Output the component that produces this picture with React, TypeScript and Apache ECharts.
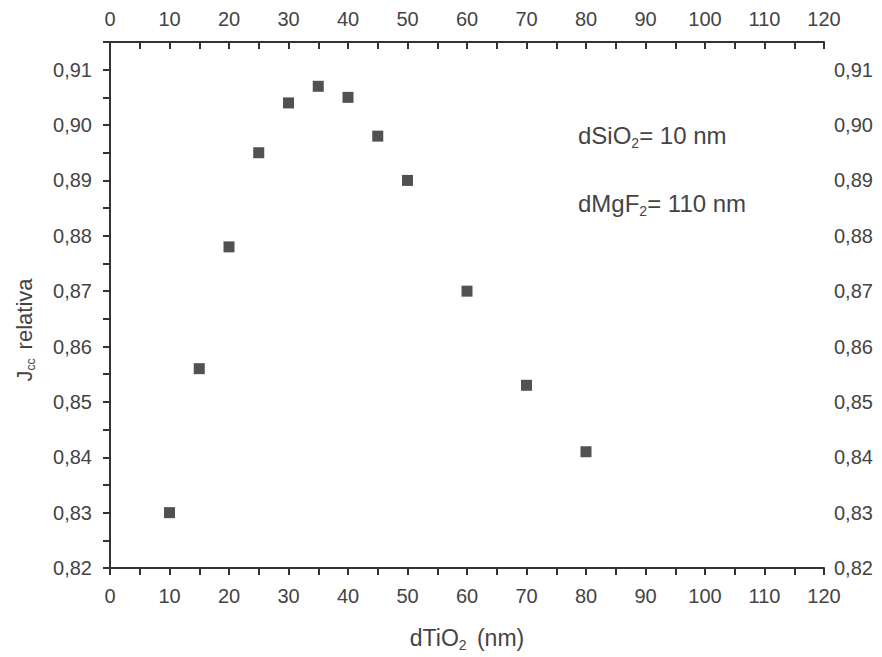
import React, { useEffect, useRef } from "react";
import * as echarts from "echarts";

const thickness = [10, 15, 20, 25, 30, 35, 40, 45, 50, 60, 70, 80];
const jccRel = [0.83, 0.856, 0.878, 0.895, 0.904, 0.907, 0.905, 0.898, 0.89, 0.87, 0.853, 0.841];
const xRange = { min: 0, max: 120, tickStep: 5, labelStep: 10 };
const yRange = { min: 0.82, max: 0.915, tickStep: 0.005, labelStep: 0.01 };
const annotations = ["dSiO{sub|2}{m|= 10 nm}", "dMgF{sub|2}{m|= 110 nm}"];

const FONT = "'Liberation Sans', Arial, sans-serif";
const AXIS_COLOR = "#333";
const TEXT_COLOR = "#444";

export default function App() {
  const ref = useRef<HTMLDivElement>(null);
  useEffect(() => {
    document.body.style.margin = "0";
    const chart = echarts.init(ref.current!, undefined, { renderer: "svg" });
    const ls = () => ({ color: AXIS_COLOR, width: 2 });
    const isStep = (v: number, step: number) => Math.abs(v / step - Math.round(v / step)) < 1e-6;
    const fmtX = (v: number) => (isStep(v, xRange.labelStep) ? String(Math.round(v)) : "");
    const fmtY = (v: number) => (isStep(v, yRange.labelStep) ? v.toFixed(2).replace(".", ",") : "");
    const xAxisDef = (position: string, inside: boolean, margin: number): any => ({
      type: "value",
      position,
      min: xRange.min,
      max: xRange.max,
      interval: xRange.tickStep,
      axisLine: { show: true, lineStyle: ls() },
      axisTick: { show: true, inside, length: 7, lineStyle: ls() },
      splitLine: { show: false },
      axisLabel: { margin, fontSize: 20, color: TEXT_COLOR, fontFamily: FONT, formatter: fmtX },
    });
    const yAxisDef = (position: string, inside: boolean, margin: number): any => ({
      type: "value",
      position,
      min: yRange.min,
      max: yRange.max,
      interval: yRange.tickStep,
      axisLine: { show: true, lineStyle: ls() },
      axisTick: { show: true, inside, length: 7, lineStyle: ls() },
      splitLine: { show: false },
      axisLabel: { margin, fontSize: 20, color: TEXT_COLOR, fontFamily: FONT, formatter: fmtY },
    });
    const xBottom = xAxisDef("bottom", false, 18);
    xBottom.name = "dTiO{sub|2} (nm)";
    xBottom.nameLocation = "middle";
    xBottom.nameGap = 56;
    xBottom.nameTextStyle = {
      fontSize: 23,
      color: TEXT_COLOR,
      fontFamily: FONT,
      rich: { sub: { fontSize: 14, color: TEXT_COLOR, fontFamily: FONT, padding: [14, 4, 0, 0] } },
    };
    const option: any = {
      animation: false,
      backgroundColor: "#fff",
      grid: { left: 110, right: 58, top: 42, bottom: 89, containLabel: false },
      xAxis: [xBottom, xAxisDef("top", true, 13)],
      yAxis: [yAxisDef("left", false, 18), yAxisDef("right", true, 10)],
      series: [
        {
          type: "scatter",
          xAxisIndex: 0,
          yAxisIndex: 0,
          symbol: "rect",
          symbolSize: 11,
          itemStyle: { color: "#262626" },
          data: thickness.map((t, i) => [t, jccRel[i]]),
        },
      ],
      graphic: [
        {
          type: "text",
          x: 24,
          y: 330,
          rotation: Math.PI / 2,
          style: {
            text: "J{sub|cc} relativa",
            fontSize: 22,
            fill: TEXT_COLOR,
            fontFamily: FONT,
            align: "center",
            verticalAlign: "middle",
            rich: { sub: { fontSize: 12, fill: TEXT_COLOR, fontFamily: FONT, padding: [14, 3, 0, 0] } },
          },
        },
        ...annotations.map((txt, i) => ({
          type: "text",
          x: 578,
          y: 135 + i * 68,
          style: {
            text: txt,
            fontSize: 24,
            fill: TEXT_COLOR,
            fontFamily: FONT,
            align: "left",
            verticalAlign: "middle",
            rich: {
              sub: { fontSize: 14, fill: TEXT_COLOR, fontFamily: FONT, padding: [16, 0, 0, 0] },
              m: { fontSize: 24, fill: TEXT_COLOR, fontFamily: FONT },
            },
          },
        })),
      ],
    };
    chart.setOption(option);
    return () => chart.dispose();
  }, []);
  return <div ref={ref} style={{ width: 882, height: 657 }} />;
}
